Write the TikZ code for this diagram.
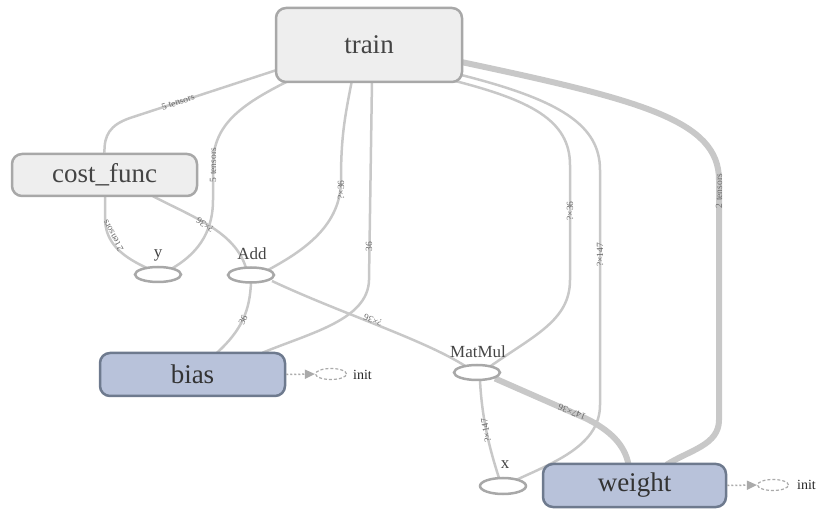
\documentclass[tikz,border=0pt]{standalone}
\usepackage{fontspec}
\setmainfont{Liberation Serif}
\usetikzlibrary{arrows.meta,calc,shapes.geometric}
\pgfdeclarelayer{bg}
\pgfsetlayers{bg,main}
\definecolor{edgec}{HTML}{C8C8C8}
\definecolor{lblc}{HTML}{6A6A6A}
\definecolor{grayfill}{HTML}{EEEEEE}
\definecolor{grayline}{HTML}{A8A8A8}
\definecolor{bluefill}{HTML}{B8C2DA}
\definecolor{blueline}{HTML}{6E7A8E}
\definecolor{txt}{HTML}{444444}
\definecolor{inits}{HTML}{AAAAAA}
\begin{document}
\begin{tikzpicture}[x=1pt,y=-1pt,
  grouprect/.style={draw=grayline, fill=grayfill, line width=2.5pt, rounded corners=10pt,
    inner sep=0pt, font=\fontsize{27}{30}\selectfont, text=txt},
  varrect/.style={draw=blueline, fill=bluefill, line width=2.5pt, rounded corners=10pt,
    inner sep=0pt, font=\fontsize{27}{30}\selectfont, text=black!80},
  opell/.style={ellipse, draw=grayline, fill=white, line width=2.5pt,
    minimum width=46pt, minimum height=15pt, inner sep=0pt},
  oplbl/.style={font=\fontsize{17}{18}\selectfont, text=txt, inner sep=0pt},
  flow/.style={draw=edgec, line width=2.5pt},
  heavy/.style={draw=edgec, line width=6pt},
  elbl/.style={font=\fontsize{9.5}{10}\selectfont, text=lblc, inner sep=0pt},
  initell/.style={ellipse, draw=inits, line width=1.2pt, dash pattern=on 3pt off 2pt,
    minimum width=31pt, minimum height=11pt, inner sep=0pt},
  initarrow/.style={draw=inits, line width=1.5pt, dash pattern=on 2pt off 2pt,
    -{Triangle[length=10pt,width=9pt]}},
  initlbl/.style={font=\fontsize{14}{15}\selectfont, text=black!85, inner sep=0pt},
]
\useasboundingbox (0,0) rectangle (817,510);

% main nodes
\node[grouprect, minimum width=186pt, minimum height=74pt] (train) at (369,45) {train};
\node[grouprect, minimum width=185pt, minimum height=42pt] (cost) at (104.5,175) {cost\_func};
\node[varrect, minimum width=185pt, minimum height=43pt] (bias) at (192.5,374.5) {bias};
\node[varrect, minimum width=183pt, minimum height=43pt] (weight) at (634.5,485.5) {weight};
\node[opell] (yell) at (158,274.5) {};
\node[opell] (add) at (251,275) {};
\node[opell] (mm) at (477,372.5) {};
\node[opell, minimum height=16pt] (xell) at (503,486) {};

% op labels
\node[oplbl] (ylbl) at (158,255) {y};
\node[oplbl] (addlbl) at (252,254) {Add};
\node[oplbl] (mmlbl) at (478,352) {MatMul};
\node[oplbl] (xlbl) at (505,465) {x};

% init markers
\node[initell] (init1) at (331,374) {};
\node[initlbl, anchor=west] (init1t) at (353,375) {init};
\node[initell] (init2) at (773,485) {};
\node[initlbl, anchor=west] (init2t) at (797,485) {init};
\draw[initarrow] (bias.east) -- (init1.west);
\draw[initarrow] (weight.east) -- (init2.west);

\begin{pgfonlayer}{bg}
% train edges
\draw[flow] ($(train.west)+(2,25)$) -- (130,118) .. controls (110,125) and (104,135) .. (cost.north);
\draw[flow] ($(train.south west)+(15,-3)$) .. controls (240,105) and (213,125) .. (213,165)
  -- (213,200) .. controls (213,235) and (195,255) .. ($(yell.center)+(14,-6)$);
\draw[flow] ($(train.south)+(-17,-3)$) .. controls (344,120) and (341,140) .. (341,180)
  .. controls (341,225) and (305,250) .. ($(add.center)+(17,-5)$);
\draw[flow] ($(train.south)+(3,-3)$) -- (369,280) .. controls (368,320) and (310,333) .. ($(bias.north)+(70,1)$);
\draw[flow] ($(train.south east)+(-11,-3)$) .. controls (530,100) and (570,120) .. (570,165)
  -- (570,280) .. controls (570,320) and (535,335) .. ($(mm.center)+(13,-6)$);
\draw[flow] ($(train.east)+(-2,30)$) .. controls (560,100) and (600,125) .. (600,170)
  -- (600,405) .. controls (600,445) and (555,462) .. ($(xell.center)+(13,-6)$);
\draw[heavy] ($(train.east)+(-2,17)$) .. controls (640,100) and (719,120) .. (719,180)
  -- (719,420) .. controls (719,445) and (690,450) .. ($(weight.north)+(32,2)$);
% other edges
\draw[flow] ($(cost.south)+(0.5,-1)$) -- (105,220) .. controls (106,245) and (125,258) .. ($(yell.center)+(-10,-6)$);
\draw[flow] ($(cost.south)+(48.5,-1)$) .. controls (195,218) and (235,232) .. ($(add.center)+(-5,-7)$);
\draw[flow] ($(add.center)+(0,7)$) .. controls (250,310) and (242,330) .. ($(bias.north)+(24.5,1)$);
\draw[flow] ($(add.center)+(21,6)$) .. controls (340,313) and (425,340) .. ($(mm.center)+(-11,-6)$);
\draw[flow] ($(mm.center)+(3,8)$) .. controls (482,420) and (490,450) .. ($(xell.center)+(-4,-8)$);
\draw[heavy] ($(mm.center)+(18,6)$) -- (585,418) .. controls (610,430) and (625,445) .. ($(weight.north)+(-6,2)$);
\end{pgfonlayer}

% edge labels
\node[elbl, rotate=18] (e1) at (178,102) {5 tensors};
\node[elbl, rotate=90] (e2) at (213,165) {5 tensors};
\node[elbl, rotate=90] (e3) at (341,190) {?×36};
\node[elbl, rotate=90] (e4) at (369,247) {36};
\node[elbl, rotate=90] (e5) at (570,211) {?×36};
\node[elbl, rotate=90] (e6) at (600,255) {?×147};
\node[elbl, rotate=90] (e7) at (719,191) {2 tensors};
\node[elbl, rotate=119] (e8) at (113,236) {2 tensors};
\node[elbl, rotate=146] (e9) at (205,225) {?×36};
\node[elbl, rotate=65] (e10) at (243,320) {36};
\node[elbl, rotate=158] (e11) at (373,320) {?×36};
\node[elbl, rotate=100] (e12) at (486,430) {?×147};
\node[elbl, rotate=157] (e13) at (572,412) {147×36};
\end{tikzpicture}
\end{document}
